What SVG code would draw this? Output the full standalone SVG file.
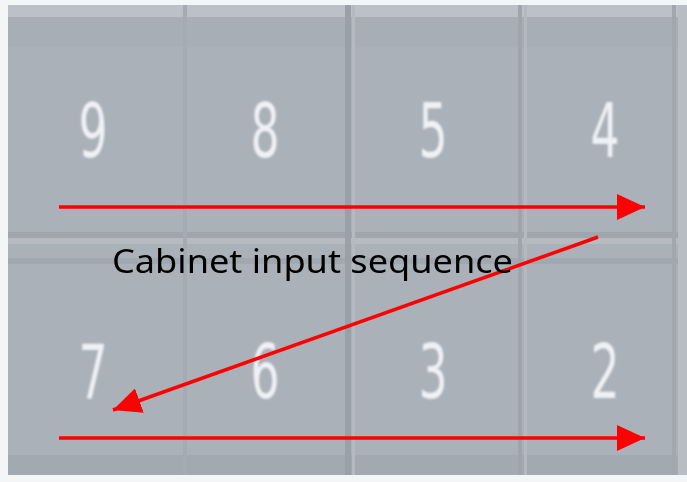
<svg xmlns="http://www.w3.org/2000/svg" width="687" height="482" viewBox="0 0 687 482">
<defs>
<style>
.dg{font-family:"DejaVu Sans","Liberation Sans",sans-serif;font-size:74px;fill:#eef1f5;text-anchor:middle}
.ar{stroke:#ff0000;stroke-width:3.5;fill:none}
.lbl{font-family:"Noto Sans","Open Sans","Liberation Sans",sans-serif;font-size:32px;fill:#000}
</style>
<filter id="bl" x="-20%" y="-20%" width="140%" height="140%"><feGaussianBlur stdDeviation="1.3"/></filter>
<marker id="ah2" viewBox="0 0 28 26" refX="28" refY="13" markerWidth="28" markerHeight="26" markerUnits="userSpaceOnUse" orient="auto">
<path d="M0,0 L28,13 L0,26 Z" fill="#ff0000"/>
</marker>
</defs>
<rect width="687" height="482" fill="#f4f5f7"/>
<g id="panel">
<rect x="8" y="5" width="679" height="470" fill="#abb1b9"/>
<rect x="8" y="5" width="679" height="12" fill="#bcc1c8"/>
<rect x="8" y="17" width="679" height="30" fill="#a7adb5" opacity="0.7"/>
<rect x="8" y="455" width="679" height="20" fill="#a3a9b1"/>
<rect x="8" y="232" width="679" height="6" fill="#a0a6ae"/>
<rect x="8" y="238" width="679" height="6" fill="#b6bbc2"/>
<rect x="8" y="258" width="679" height="6" fill="#a2a8b0"/>
<rect x="183" y="5" width="4" height="470" fill="#a5abb3"/>
<rect x="345" y="5" width="6" height="470" fill="#9aa0a8"/>
<rect x="352" y="5" width="3" height="470" fill="#b5bac1"/>
<rect x="518" y="5" width="4" height="470" fill="#9fa5ad"/>
<rect x="524" y="5" width="3" height="470" fill="#b3b8bf"/>
<rect x="672" y="5" width="4" height="470" fill="#a1a7af"/>
<rect x="678" y="5" width="9" height="470" fill="#b8bdc4"/>
</g>
<g id="digits" filter="url(#bl)">
<text class="dg" transform="translate(93,157) scale(0.62,1)">9</text>
<text class="dg" transform="translate(265,157) scale(0.62,1)">8</text>
<text class="dg" transform="translate(433,157) scale(0.62,1)">5</text>
<text class="dg" transform="translate(605,157) scale(0.62,1)">4</text>
<text class="dg" transform="translate(93,398) scale(0.62,1)">7</text>
<text class="dg" transform="translate(265,398) scale(0.62,1)">6</text>
<text class="dg" transform="translate(433,398) scale(0.62,1)">3</text>
<text class="dg" transform="translate(605,398) scale(0.62,1)">2</text>
</g>
<g id="connectors">
<line class="ar" x1="59" y1="207" x2="645" y2="207" marker-end="url(#ah2)"/>
<line class="ar" x1="598" y1="237" x2="113" y2="410" marker-end="url(#ah2)"/>
<line class="ar" x1="59" y1="438" x2="645" y2="438" marker-end="url(#ah2)"/>
</g>
<g id="label">
<text class="lbl" x="112" y="273" textLength="401" lengthAdjust="spacingAndGlyphs">Cabinet input sequence</text>
</g>
</svg>
